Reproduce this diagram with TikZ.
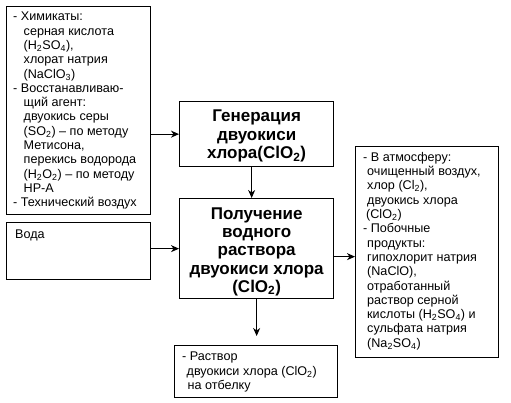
\documentclass[tikz,border=0pt]{standalone}
\usepackage{fontspec}
\setmainfont{Liberation Sans}
\usetikzlibrary{arrows.meta,calc}
\newcommand{\indL}{\hspace*{10.5pt}}
\newcommand{\indR}{\hspace*{4pt}}
\begin{document}
\begin{tikzpicture}[x=1pt,y=-1pt,
  box/.style={draw,line width=1.3pt,inner sep=0pt,anchor=north west},
  txt/.style={inner sep=0pt,anchor=north west,align=left,font=\fontsize{12.6}{14.3}\selectfont},
  btxt/.style={inner sep=0pt,align=center,font=\fontsize{17}{18.3}\selectfont\bfseries},
  arr/.style={line width=1.1pt,-{Stealth[length=8pt,width=7pt,inset=2.5pt]}}]
\useasboundingbox[fill=white] (0,0) rectangle (511,403);
% boxes
\node[box,minimum width=144pt,minimum height=208pt] (chem) at (6,6) {};
\node[box,minimum width=144pt,minimum height=57pt] (voda) at (6,222) {};
\node[box,minimum width=154pt,minimum height=65pt] (gen) at (179,101) {};
\node[box,minimum width=154pt,minimum height=100pt] (main) at (179,198) {};
\node[box,minimum width=143pt,minimum height=211pt] (out) at (355,146) {};
\node[box,minimum width=163pt,minimum height=52pt] (prod) at (174,345) {};
% texts
\node[txt] (chemt) at (13,12) {- Химикаты:\\
\indL серная кислота\\
\indL (H\textsubscript{2}SO\textsubscript{4}),\\
\indL хлорат натрия\\
\indL (NaClO\textsubscript{3})\\
- Восстанавливаю-\\
\indL щий агент:\\
\indL двуокись серы\\
\indL (SO\textsubscript{2}) – по методу\\
\indL Метисона,\\
\indL перекись водорода\\
\indL (H\textsubscript{2}O\textsubscript{2}) – по методу\\
\indL HP-A\\
- Технический воздух};
\node[txt] (vodat) at (15,230) {Вода};
\node[btxt] (gent) at ($(gen.center)+(0,2)$) {Генерация\\двуокиси\\хлора(ClO\textsubscript{2})};
\node[btxt] (maint) at ($(main.center)+(0,3)$) {Получение\\водного\\раствора\\двуокиси хлора\\(ClO\textsubscript{2})};
\node[txt] (outt) at (363,152) {- В атмосферу:\\
\indR очищенный воздух,\\
\indR хлор (Cl\textsubscript{2}),\\
\indR двуокись хлора\\
\hspace*{3pt}(ClO\textsubscript{2})\\
- Побочные\\
\indR продукты:\\
\indR гипохлорит натрия\\
\indR (NaClO),\\
\indR отработанный\\
\indR раствор серной\\
\indR кислоты (H\textsubscript{2}SO\textsubscript{4}) и\\
\indR сульфата натрия\\
\indR (Na\textsubscript{2}SO\textsubscript{4})};
\node[txt] (prodt) at (182,352) {- Раствор\\
\hspace*{4.5pt}двуокиси хлора (ClO\textsubscript{2})\\
\hspace*{5.5pt}на отбелку};
% connectors
\draw[arr] (chem.east |- gen.west) -- (gen.west);
\draw[arr] (voda.east |- main.west) -- (main.west);
\draw[arr] ([xshift=-5pt]gen.south) -- ([xshift=-5pt]main.north);
\draw[arr] ([yshift=-8pt]main.east) -- ([yshift=-8pt]main.east -| out.west);
\draw[arr,shorten >=9pt] (main.south) -- (main.south |- prod.north);
\end{tikzpicture}
\end{document}
